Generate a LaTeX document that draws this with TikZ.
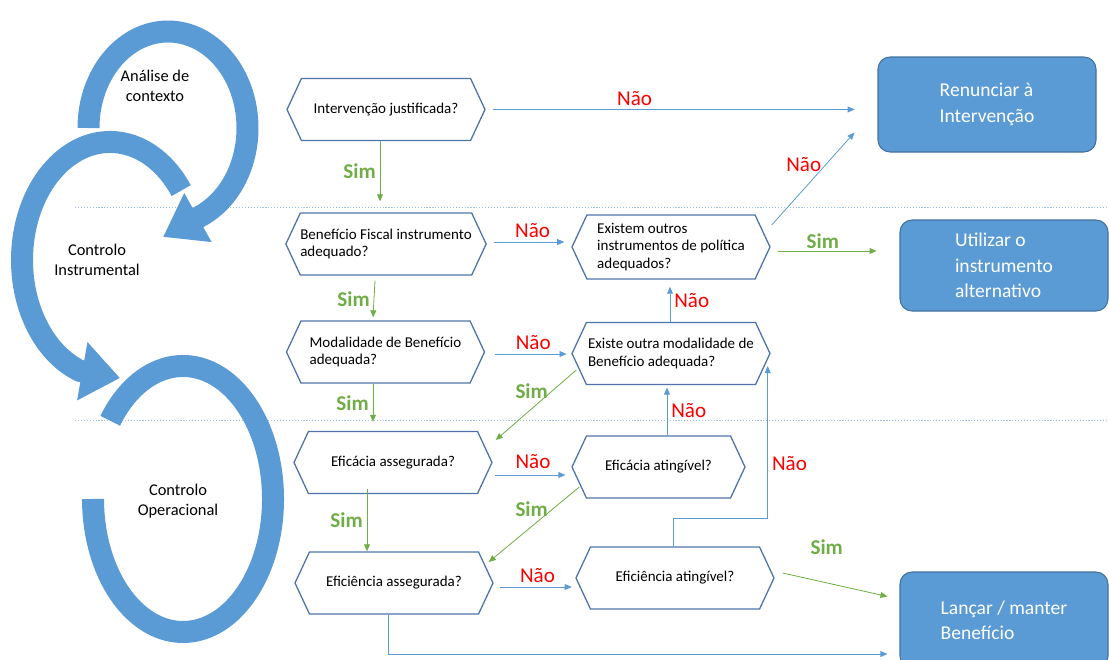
\documentclass[tikz,border=0pt]{standalone}
\usepackage{fontspec}
\setmainfont{Carlito}
\usepackage{tikz}
\usepackage{xcolor}
\usetikzlibrary{calc}
\usetikzlibrary{arrows.meta}
\usetikzlibrary{shapes.symbols}

\definecolor{ringblue}{HTML}{5B9BD5}
\definecolor{boxedge}{HTML}{41719C}
\definecolor{hexedge}{HTML}{4E74AA}
\definecolor{simgreen}{HTML}{70AD47}
\definecolor{naored}{HTML}{FF0000}
\definecolor{dotblue}{HTML}{9DC3E6}

\tikzset{>={Triangle[length=6pt, width=5pt]}}
\tikzstyle{hexa} = [signal, signal to=east and west, signal pointer angle=130, draw=hexedge, line width=1.1pt, fill=white, minimum width=5.94cm, minimum height=1.86cm, inner xsep=0pt, inner ysep=2pt, align=left, font=\fontsize{12.8}{15.3}\selectfont]
\tikzstyle{endbox} = [rectangle, rounded corners=0.36cm, draw=boxedge, line width=0.9pt, fill=ringblue, text=white, align=left, font=\fontsize{16.7}{21.7}\selectfont]
\tikzstyle{simline} = [simgreen, line width=0.7pt, ->]
\tikzstyle{naoline} = [ringblue, line width=0.7pt, ->]
\tikzstyle{sim} = [text=simgreen, font=\fontsize{18}{18}\selectfont\bfseries]
\tikzstyle{nao} = [text=naored, font=\fontsize{18}{18}\selectfont]
\tikzstyle{ring} = [ringblue, line width=0.66cm]
\tikzstyle{stage} = [align=center, font=\fontsize{14}{17}\selectfont]
\tikzstyle{divider} = [dotblue, line width=0.8pt, dash pattern=on 1pt off 1.5pt]

\begin{document}
\begin{tikzpicture}[x=0.03cm, y=-0.03cm]
    \useasboundingbox (0,0) rectangle (1109,659);

    % phase separators
    \draw[divider] (75,207) -- (1109,207);
    \draw[divider] (75,420) -- (1109,420);

    % the three control loops
    \draw[ring, -{Triangle[length=1.2cm, width=1.6cm]}] (88.5,128) arc[start angle=180, end angle=425, x radius=79.5, y radius=96.5] -- (163,237);
    \draw[ring, -{Triangle[length=1.15cm, width=1.7cm]}] (181.2,190.6) arc[start angle=-36, end angle=-250, x radius=88, y radius=118] -- (120,378);
    \draw[ring] (110.2,420.8) arc[start angle=-144, end angle=180, x radius=90, y radius=133];

    \node[stage] (analise) at (155,86) {Análise de\\contexto};
    \node[stage] (instrum) at (97,260) {Controlo\\Instrumental};
    \node[stage] (operac) at (178,501) {Controlo\\Operacional};

    % questions
    \node[hexa] (justif) at (386,109.5) {Intervenção justificada?};
    \node[hexa] (instr) at (386,244) {Benefício Fiscal instrumento\\adequado?};
    \node[hexa, minimum height=1.92cm] (outros) at (671,247) {Existem outros\\instrumentos de política\\adequados?};
    \node[hexa] (modal) at (385.5,352) {Modalidade de Benefício\\adequada?};
    \node[hexa] (outramod) at (671,353.5) {Existe outra modalidade de\\Benefício adequada?};
    \node[hexa] (eficacia) at (393,462.5) {Eficácia assegurada?};
    \node[hexa, minimum width=5.19cm] (eficaciaat) at (658.5,467) {Eficácia atingível?};
    \node[hexa] (eficiencia) at (394,583) {Eficiência assegurada?};
    \node[hexa] (eficienciaat) at (675,578) {Eficiência atingível?};

    % outcomes
    \node[endbox, minimum width=6.54cm, minimum height=2.85cm] (renunciar) at (987,104.5) {Renunciar à\\Intervenção};
    \node[endbox, minimum width=6.24cm, minimum height=2.73cm] (utilizar) at (1004,265.5) {Utilizar o\\instrumento\\alternativo};
    \node[endbox, minimum width=6.24cm, minimum height=2.88cm] (lancar) at (1004,620) {Lançar / manter\\Benefício};

    % connectors
    \draw[naoline, shorten <=6pt, shorten >=19.5pt] (justif.east) -- (justif.east -| renunciar.west) node[nao, pos=0.38, above] {Não};
    \draw[simline] ($(justif.south)+(-6,0)$) -- ($(instr.north)+(-6,-11)$) node[sim, midway, left] {Sim};

    \draw[naoline, shorten >=6pt] ($(instr.east)+(7,-2)$) coordinate (a) -- (a -| outros.west) node[nao, midway, above] {Não};
    \draw[simline, shorten >=19.5pt] ($(outros.east)+(7,4)$) coordinate (a) -- (a -| utilizar.west) node[sim, pos=0.37, above=-2pt] {Sim};
    \draw[naoline] ($(outros.east)+(1,-22)$) -- ($(renunciar.south west)+(-23,-20)$) node[nao, pos=0.65, left] {Não};
    \draw[naoline, shorten >=6pt] ($(outramod.north)+(-1,0)$) coordinate (a) -- (a |- outros.south) node[nao, midway, right] {Não};

    \draw[simline] ($(instr.south)+(-11,5)$) -- ($(modal.north)+(-12.5,-3)$) node[sim, midway, left] {Sim};
    \draw[naoline, shorten >=4pt] ($(modal.east)+(10,2)$) coordinate (a) -- (a -| outramod.west) node[nao, midway, above] {Não};
    \draw[simline] ($(modal.south)+(-12.5,0)$) -- ($(eficacia.north)+(-20,-9)$) node[sim, midway, left] {Sim};
    \draw[simline] ($(outramod.west)+(5,16.5)$) -- ($(eficacia.east)+(3,-22.5)$) node[sim, pos=0.3, left] {Sim};

    \draw[naoline, shorten >=5pt] ($(eficacia.east)+(2,12.5)$) coordinate (a) -- (a -| eficaciaat.west) node[nao, midway, above=2pt] {Não};
    \draw[naoline, shorten >=2pt] ($(eficaciaat.north)+(8.5,0)$) coordinate (a) -- (a |- outramod.south) node[nao, midway, right] {Não};
    \draw[simline] ($(eficacia.south)+(-26,-5)$) coordinate (a) -- (a |- eficiencia.north) node[sim, midway, left] {Sim};
    \draw[simline] ($(eficaciaat.west)+(8,20)$) -- ($(eficiencia.east)+(-5,-21)$) node[sim, pos=0.3, left] {Sim};

    \draw[naoline, shorten >=3pt] ($(eficiencia.east)+(6,4)$) coordinate (a) -- (a -| eficienciaat.west) node[nao, midway, above] {Não};
    \draw[naoline] ($(eficienciaat.north)+(-2,0)$) -- ++(0,-28) -| ($(outramod.east)+(-3,12.5)$) node[nao, pos=0.68, right] {Não};
    \draw[simline] ($(eficienciaat.east)+(8,-5)$) -- ($(lancar.north west)+(-12,25)$) node[sim, pos=0.42, above=20pt] {Sim};
    \draw[naoline] ($(eficiencia.south)+(-6,0)$) |- ($(lancar.west)+(-12,34)$);
\end{tikzpicture}
\end{document}
